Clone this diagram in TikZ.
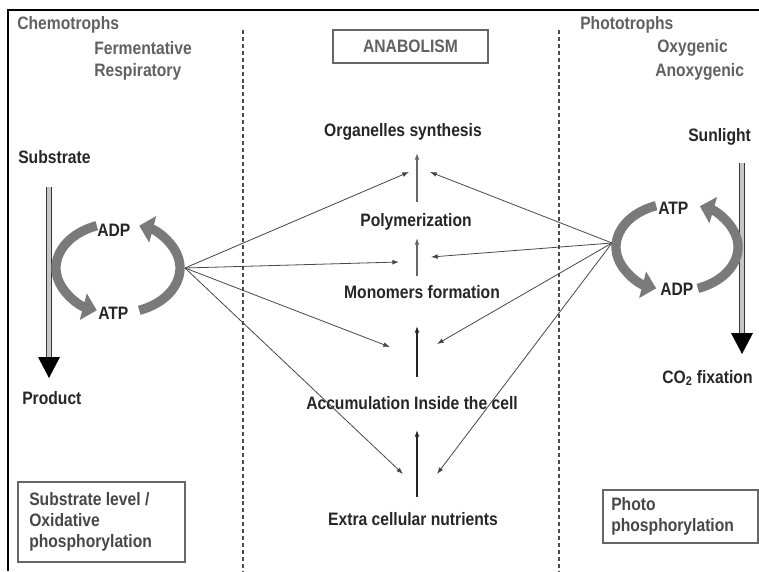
\documentclass[tikz,border=0pt]{standalone}
\usepackage{fontspec}
\setmainfont{Liberation Sans}[FakeStretch=0.87]
\usetikzlibrary{arrows.meta,calc}
\tikzset{
  lbl/.style={font=\bfseries\fontsize{13.5}{15.75}\selectfont, text=black!85, inner sep=0pt},
  toplbl/.style={lbl, text=black!62},
  boxtxt/.style={lbl, text=black!72, align=left},
  fan/.style={draw=black!72, line width=0.6pt, -{Latex[length=5pt,width=3.6pt]}},
  uparr/.style={draw=black!85, line width=0.9pt, -{Latex[length=5pt,width=3.6pt]}},
  cyc/.style={line width=7pt, draw=black!52, -{Triangle[width=20pt,length=10.5pt]}},
  shaft/.style={draw=black!78, line width=0.9pt, double=gray!45, double distance=2.4pt},
  divider/.style={draw=black!70, line width=0.8pt, dash pattern=on 3pt off 2.2pt},
  frameline/.style={draw=black, line width=1.2pt},
  plainbox/.style={draw=black!60, line width=1pt}
}
\begin{document}
\begin{tikzpicture}[x=0.75pt, y=-0.75pt]
\useasboundingbox (0,0) rectangle (759,571);
\clip (0,0) rectangle (759,571);
\fill[white] (0,0) rectangle (759,571);

% frame
\draw[frameline] (8,571) -- (8,10) -- (759,10);

% dividers
\draw[divider] (243,30) -- (243,571);
\draw[divider] (559,30) -- (559,571);

% top labels
\node[toplbl, anchor=west] (chemo) at (17,25) {Chemotrophs};
\node[toplbl, anchor=west] (ferm) at (94,48) {Fermentative};
\node[toplbl, anchor=west] (resp) at (94,72) {Respiratory};
\node[toplbl, anchor=west] (photo) at (580,25) {Phototrophs};
\node[toplbl, anchor=west] (oxy) at (657,48) {Oxygenic};
\node[toplbl, anchor=west] (anoxy) at (655,72) {Anoxygenic};

% anabolism box
\draw[plainbox] (333,30) rectangle (488,63);
\node[toplbl] (anab) at (410.5,46.5) {ANABOLISM};

% central labels
\node[lbl] (org) at (403,132) {Organelles synthesis};
\node[lbl] (poly) at (416,222) {Polymerization};
\node[lbl] (mono) at (422,292) {Monomers formation};
\node[lbl] (accu) at (412,403) {Accumulation Inside the cell};
\node[lbl] (extra) at (413,519) {Extra cellular nutrients};

% vertical arrows
\coordinate (v1s) at (417,202); \coordinate (v1e) at (417,153);
\coordinate (v2s) at (417,276); \coordinate (v2e) at (417,238);
\coordinate (v3s) at (417,377); \coordinate (v3e) at (417,326);
\coordinate (v4s) at (417,497); \coordinate (v4e) at (417,430);
\draw[uparr, draw=black!60] (v1s) -- (v1e);
\draw[uparr, draw=black!60] (v2s) -- (v2e);
\draw[uparr] (v3s) -- (v3e);
\draw[uparr] (v4s) -- (v4e);

% left side
\node[lbl, anchor=west] (subs) at (18,157) {Substrate};
\node[lbl, anchor=west] (prod) at (22,398) {Product};
\coordinate (ls1) at (49,187); \coordinate (ls2) at (49,358);
\draw[shaft] (ls1) -- (ls2);
\fill[black] (38,357) -- (60,357) -- (49,378) -- cycle;

\node[lbl, anchor=west] (ladp) at (97,230) {ADP};
\node[lbl, anchor=west] (latp) at (98,313) {ATP};
\coordinate (lc) at (118,268);
\draw[cyc] ($(lc)+(-110:62 and 45)$) arc[start angle=-110, end angle=-250, x radius=62, y radius=45];
\draw[cyc] ($(lc)+(70:62 and 45)$) arc[start angle=70, end angle=-70, x radius=62, y radius=45];

% right side
\node[lbl, anchor=west] (sun) at (688,137) {Sunlight};
\node[lbl, anchor=west] (co2) at (662,378) {CO\textsubscript{2} fixation};
\coordinate (rs1) at (742,163); \coordinate (rs2) at (742,334);
\draw[shaft] (rs1) -- (rs2);
\fill[black] (731,333) -- (753,333) -- (742,354) -- cycle;

\node[lbl, anchor=west] (ratp) at (658,208) {ATP};
\node[lbl, anchor=west] (radp) at (660,289) {ADP};
\coordinate (rc) at (677,247);
\draw[cyc] ($(rc)+(-110:61 and 44)$) arc[start angle=-110, end angle=-250, x radius=61, y radius=44];
\draw[cyc] ($(rc)+(70:61 and 44)$) arc[start angle=70, end angle=-68, x radius=61, y radius=44];

% fan connectors
\coordinate (lhub) at (185,268);
\coordinate (rhub) at (612,243);
\coordinate (l1) at (409,172);
\coordinate (l2) at (399,262);
\coordinate (l3) at (390,347);
\coordinate (l4) at (403,474);
\coordinate (r1) at (430,172);
\coordinate (r2) at (431,257);
\coordinate (r3) at (437,344);
\coordinate (r4) at (437,474);
\draw[fan] (lhub) -- (l1);
\draw[fan] (lhub) -- (l2);
\draw[fan] (lhub) -- (l3);
\draw[fan] (lhub) -- (l4);
\draw[fan] (rhub) -- (r1);
\draw[fan] (rhub) -- (r2);
\draw[fan] (rhub) -- (r3);
\draw[fan] (rhub) -- (r4);

% bottom boxes
\draw[plainbox] (18,482) rectangle (185,562);
\node[boxtxt, anchor=west] (lbox) at (29,522) {Substrate level /\\Oxidative\\phosphorylation};
\draw[plainbox] (603,490) rectangle (758,543);
\node[boxtxt, anchor=west] (rbox) at (611,516) {Photo\\phosphorylation};
\end{tikzpicture}
\end{document}
